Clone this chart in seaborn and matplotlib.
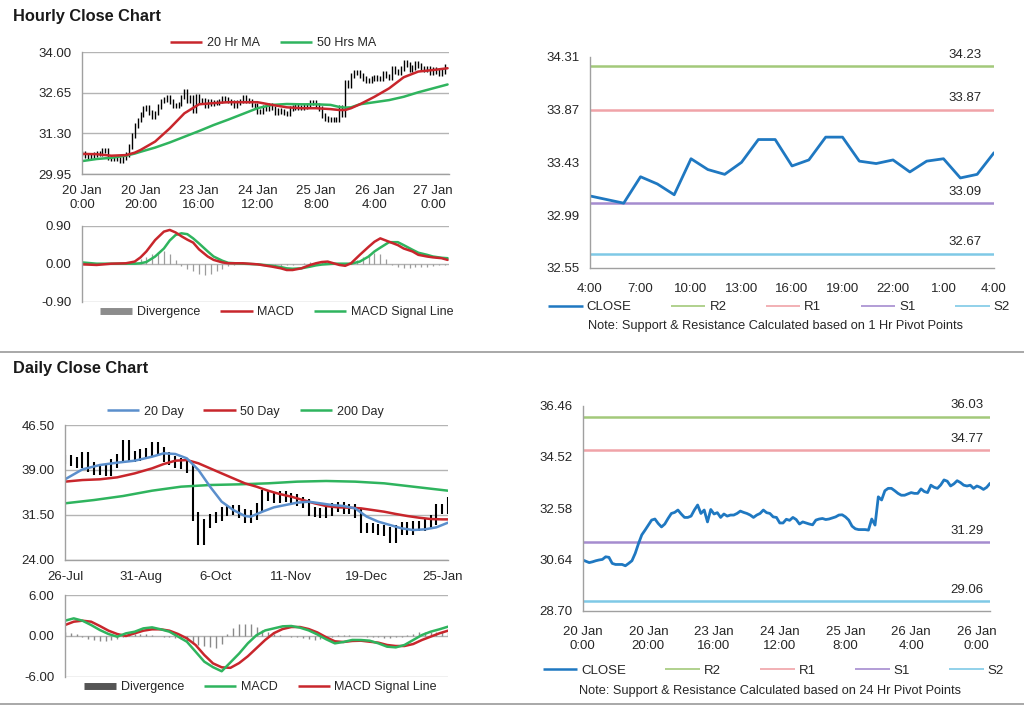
import numpy as np
import matplotlib.pyplot as plt
from matplotlib.lines import Line2D
import seaborn as sns

# ---------------- hourly data (one value per hour) ----------------
hourly_close = [
    30.62, 30.57, 30.52, 30.55, 30.59, 30.62, 30.64, 30.74, 30.72, 30.49,
    30.45, 30.45, 30.45, 30.40, 30.49, 30.59, 30.87, 31.24, 31.57, 31.75,
    31.94, 32.13, 32.17, 32.00, 31.87, 31.98, 32.19, 32.38, 32.42, 32.51,
    32.36, 32.23, 32.23, 32.28, 32.51, 32.70, 32.38, 32.51, 32.06, 32.53,
    32.36, 32.41, 32.23, 32.36, 32.28, 32.32, 32.32, 32.38, 32.47, 32.42,
    32.38, 32.32, 32.23, 32.32, 32.38, 32.51, 32.41, 32.38, 32.25, 32.23,
    32.02, 32.02, 32.16, 32.12, 32.23, 32.15, 31.98, 32.06, 32.02, 31.98,
    31.95, 32.13, 32.17, 32.19, 32.15, 32.17, 32.21, 32.25, 32.32, 32.33,
    32.25, 32.13, 31.90, 31.80, 31.77, 31.77, 31.77, 31.75, 32.17, 31.94,
    33.01, 32.89, 33.24, 33.33, 33.33, 33.24, 33.14, 33.07, 33.07, 33.12,
    33.17, 33.14, 33.14, 33.31, 33.21, 33.17, 33.45, 33.37, 33.33, 33.46,
    33.65, 33.60, 33.42, 33.50, 33.62, 33.55, 33.45, 33.42, 33.45, 33.33,
    33.42, 33.37, 33.29, 33.37, 33.52]
hourly_ticks = ['20 Jan\n0:00', '20 Jan\n20:00', '23 Jan\n16:00', '24 Jan\n12:00',
                '25 Jan\n8:00', '26 Jan\n4:00', '27 Jan\n0:00']
hourly_ticks_pivot = ['20 Jan\n0:00', '20 Jan\n20:00', '23 Jan\n16:00', '24 Jan\n12:00',
                      '25 Jan\n8:00', '26 Jan\n4:00', '26 Jan\n0:00']

ma_hour_x = [0, 5, 10, 15, 18, 20, 25, 30, 35, 40, 45, 50, 55, 60, 65, 70, 75, 80,
             85, 88, 90, 92, 95, 100, 105, 110, 115, 120, 125]
ma20_hr = [30.62, 30.61, 30.56, 30.58, 30.66, 30.75, 31.03, 31.47, 31.97, 32.27,
           32.31, 32.34, 32.34, 32.34, 32.25, 32.17, 32.14, 32.14, 32.11, 32.08,
           32.08, 32.14, 32.27, 32.52, 32.80, 33.17, 33.36, 33.41, 33.47]
ma50_hr = [30.38, 30.45, 30.49, 30.56, 30.63, 30.69, 30.83, 31.00, 31.19, 31.38,
           31.58, 31.76, 31.95, 32.14, 32.25, 32.28, 32.27, 32.27, 32.25, 32.18,
           32.16, 32.17, 32.27, 32.34, 32.41, 32.52, 32.67, 32.80, 32.93]

macd_hour_x = [0, 5, 10, 15, 18, 20, 22, 25, 28, 30, 32, 34, 36, 38, 40, 43, 45, 48,
               50, 55, 60, 65, 68, 70, 72, 75, 78, 80, 82, 84, 86, 88, 90, 92, 95,
               98, 100, 102, 105, 108, 110, 113, 115, 118, 120, 123, 125]
macd_hr = [-0.015, -0.03, 0.0, 0.01, 0.05, 0.15, 0.29, 0.56, 0.76, 0.80, 0.74, 0.65,
           0.57, 0.50, 0.34, 0.17, 0.09, 0.03, 0.01, 0.01, -0.015, -0.07, -0.11,
           -0.15, -0.15, -0.11, -0.03, 0.01, 0.04, 0.05, 0.01, -0.03, -0.05, 0.01,
           0.21, 0.40, 0.52, 0.60, 0.52, 0.44, 0.36, 0.29, 0.21, 0.17, 0.15, 0.13, 0.09]
signal_hr = [0.03, 0.0, 0.0, 0.0, 0.0, 0.01, 0.04, 0.17, 0.36, 0.55, 0.68, 0.72,
             0.70, 0.60, 0.48, 0.29, 0.17, 0.07, 0.02, 0.0, -0.015, -0.05, -0.08,
             -0.11, -0.12, -0.11, -0.07, -0.04, -0.02, -0.01, 0.0, 0.0, 0.0, 0.0,
             0.05, 0.17, 0.29, 0.38, 0.51, 0.51, 0.44, 0.33, 0.26, 0.21, 0.17, 0.14, 0.13]
# divergence, every second hour
div_hr = [0.02, 0.01, 0, 0, 0, 0, 0.01, 0, 0.02, 0.05,
          0.10, 0.16, 0.22, 0.27, 0.29, 0.22, 0.08, -0.06, -0.12, -0.18,
          -0.24, -0.27, -0.24, -0.18, -0.12, -0.06, -0.02, 0, 0.01, 0,
          0, -0.02, -0.04, -0.05, -0.05, -0.04, -0.02, 0, 0.02, 0.04,
          0.05, 0.05, 0.04, 0.01, -0.02, -0.03, 0.01, 0.08, 0.16, 0.22,
          0.26, 0.22, 0.10, -0.02, -0.08, -0.10, -0.10, -0.09, -0.08, -0.07,
          -0.05, -0.04, -0.03]

# 1 hr pivot chart
pivot1_close = [33.15, 33.12, 33.09, 33.31, 33.25, 33.16, 33.46, 33.37, 33.33, 33.43,
                33.62, 33.62, 33.40, 33.45, 33.64, 33.64, 33.44, 33.42, 33.45, 33.35,
                33.44, 33.46, 33.30, 33.33, 33.51]
pivot1_ticks = ['4:00', '7:00', '10:00', '13:00', '16:00', '19:00', '22:00', '1:00', '4:00']
pivot1_levels = {'R2': 34.23, 'R1': 33.87, 'S1': 33.09, 'S2': 32.67}
pivot1_yticks = [32.55, 32.99, 33.43, 33.87, 34.31]

# 24 hr pivot chart
pivot24_levels = {'R2': 36.03, 'R1': 34.77, 'S1': 31.29, 'S2': 29.06}
pivot24_yticks = [28.70, 30.64, 32.58, 34.52, 36.46]

# ---------------- daily data (every second trading day) ----------------
daily_close = [40.77, 40.38, 40.10, 41.20, 39.50, 38.98, 39.26, 38.70, 40.10, 40.93,
               43.16, 41.20, 41.30, 41.77, 41.88, 42.88, 42.05, 41.20, 40.54, 40.20,
               39.98, 39.26, 31.19, 27.20, 30.07, 30.91, 31.19, 32.02, 32.30, 32.41,
               31.74, 30.91, 31.47, 32.75, 34.81, 34.53, 34.25, 34.64, 34.42, 34.25,
               33.70, 33.42, 32.02, 31.86, 31.74, 32.02, 32.75, 32.86, 32.41, 32.58,
               31.74, 29.24, 29.41, 29.24, 28.96, 28.68, 27.57, 28.96, 29.52, 28.96,
               29.63, 29.52, 30.07, 30.63, 32.58, 32.41, 33.70]
daily_ticks = ['26-Jul', '31-Aug', '6-Oct', '11-Nov', '19-Dec', '25-Jan']

d20_x = [0, 6, 12, 18, 24, 30, 34, 38, 42, 46, 50, 54, 58, 62, 64, 68, 72, 76, 80, 84,
         88, 92, 96, 100, 104, 108, 112, 116, 120, 124, 128, 132]
ma20_day = [37.43, 39.09, 39.82, 40.21, 40.54, 41.21, 41.77, 41.66, 40.93, 38.98,
            36.20, 33.69, 32.30, 31.30, 31.19, 32.02, 32.75, 33.14, 33.53, 33.69,
            33.42, 33.14, 32.97, 32.58, 31.19, 30.35, 29.80, 29.24, 28.96, 29.07,
            29.41, 30.19]
d50_x = [0, 6, 12, 18, 24, 30, 34, 38, 42, 46, 50, 54, 58, 62, 66, 70, 74, 78, 82, 86,
         90, 94, 98, 102, 106, 110, 114, 118, 122, 126, 130, 132]
ma50_day = [37.04, 37.31, 37.43, 37.76, 38.42, 39.26, 39.98, 40.54, 40.65, 40.10,
            39.26, 38.42, 37.59, 36.76, 36.20, 35.53, 34.97, 34.53, 33.97, 33.42,
            32.97, 32.75, 32.69, 32.58, 32.30, 32.02, 31.64, 31.30, 31.02, 30.80,
            30.74, 30.74]
d200_x = [0, 10, 20, 30, 40, 50, 60, 70, 80, 90, 100, 110, 120, 132]
ma200_day = [33.42, 33.97, 34.64, 35.53, 36.20, 36.48, 36.59, 36.76, 37.04, 37.15,
             37.04, 36.76, 36.20, 35.53]

macd_day_x = list(range(0, 133, 3))
macd_day = [2.23, 2.57, 2.23, 1.59, 0.86, 0.27, -0.12, 0.37, 0.61, 1.10,
            1.25, 0.96, 0.61, -0.12, -0.86, -2.32, -3.79, -4.60, -5.20, -3.90,
            -2.60, -1.10, 0.10, 0.80, 1.10, 1.40, 1.45, 1.20, 0.80, 0.20,
            -0.50, -1.10, -0.90, -0.60, -0.61, -0.71, -1.10, -1.59, -1.69, -1.34,
            -0.61, 0.12, 0.61, 0.96, 1.35]
signal_day = [1.59, 2.08, 2.23, 2.08, 1.45, 0.76, 0.27, -0.02, 0.37, 0.76,
              0.96, 0.96, 0.76, 0.27, -0.37, -1.34, -2.81, -4.04, -4.62, -4.70,
              -4.00, -3.00, -1.80, -0.60, 0.40, 1.00, 1.30, 1.30, 1.00, 0.50,
              -0.20, -0.80, -0.90, -0.75, -0.71, -0.86, -1.00, -1.34, -1.49, -1.49,
              -1.20, -0.61, -0.12, 0.37, 0.76]
div_day = [0.6, 0.45, 0.2, -0.1, -0.4, -0.6, -0.8, -0.8, -0.6, -0.4,
           -0.1, 0.2, 0.2, 0.3, 0.25, 0.15, 0.05, -0.1, -0.2, -0.35,
           -0.5, -0.8, -1.0, -1.3, -1.5, -1.7, -1.8, -1.2, 0.2, 1.2,
           1.7, 1.8, 1.7, 1.3, 0.8, 0.6, 0.3, 0.1, 0.05, -0.1,
           -0.2, -0.3, -0.5, -0.6, -0.5, -0.3, -0.1, 0.1, 0.15, 0.1,
           0.0, 0.0, -0.1, -0.1, -0.2, -0.3, -0.3, -0.2, -0.1, 0.1,
           0.3, 0.5, 0.6, 0.6, 0.5, 0.5, 0.5]

# colours
RED = '#c8262c'
GREEN = '#2fb45e'
BLUE = '#5b8fcc'
CLOSE_BLUE = '#1f78c1'
LEVEL_COL = {'R2': '#a3c97a', 'R1': '#f0a3a8', 'S1': '#a58ccf', 'S2': '#7fc9e6'}
GRID = '#b4b4b4'
SPINE = '#a0a0a0'
TXT = '#262626'

sns.set_theme(style='white')
plt.rcParams['font.family'] = ['Liberation Sans', 'DejaVu Sans']

fig = plt.figure(figsize=(10.24, 7.06), dpi=100)


def frame(ax, grid=True, size=9.5):
    ax.spines['top'].set_visible(False)
    ax.spines['right'].set_visible(False)
    for s in ['left', 'bottom']:
        ax.spines[s].set_color(SPINE)
        ax.spines[s].set_linewidth(1)
    ax.tick_params(axis='both', which='both', direction='out', length=4, width=1,
                   color=SPINE, labelcolor=TXT, labelsize=size)
    ax.tick_params(axis='x', pad=4)
    if grid:
        ax.yaxis.grid(True, color=GRID, linewidth=1)
        ax.set_axisbelow(True)


def price_bars(ax, x, close, pad, lw):
    close = np.asarray(close)
    prev = np.r_[close[0], close[:-1]]
    ax.vlines(x, np.minimum(prev, close) - pad, np.maximum(prev, close) + pad,
              color='black', linewidth=lw)


def line(ax, x, y, color, lw=1.8):
    sns.lineplot(x=x, y=y, ax=ax, color=color, linewidth=lw, estimator=None,
                 sort=False, legend=False)


def handle(c, w):
    return Line2D([], [], color=c, lw=w, solid_capstyle='butt')


def leg(ax, items, anchor, fs=9, spacing=1.6):
    ax.legend([handle(c, w) for _, c, w in items], [t for t, _, _ in items],
              loc='center', bbox_to_anchor=anchor, ncol=len(items), frameon=False,
              fontsize=fs, handlelength=2.6, handletextpad=0.35, columnspacing=spacing,
              labelcolor=TXT)


# ---------------- hourly price ----------------
ax1 = fig.add_axes([0.0801, 0.7535, 0.3584, 0.1724])
price_bars(ax1, np.arange(len(hourly_close)), hourly_close, 0.08, 1.0)
line(ax1, ma_hour_x, ma50_hr, GREEN)
line(ax1, ma_hour_x, ma20_hr, RED)
ax1.set_xlim(0, 125.5)
ax1.set_ylim(29.95, 34.00)
ax1.set_yticks([29.95, 31.30, 32.65, 34.00])
ax1.set_yticklabels(['%.2f' % v for v in [29.95, 31.30, 32.65, 34.00]])
ax1.set_xticks(range(0, 121, 20))
ax1.set_xticklabels(hourly_ticks)
ax1.set_xlabel('')
ax1.set_ylabel('')
frame(ax1)
leg(ax1, [('20 Hr MA', RED, 1.8), ('50 Hrs MA', GREEN, 1.8)], (0.52, 1.075))

# ---------------- hourly MACD ----------------
ax2 = fig.add_axes([0.0801, 0.5727, 0.3584, 0.1076])
ax2.vlines(np.arange(0, 125, 2), 0, div_hr, color='#9c9c9c', linewidth=0.9)
line(ax2, macd_hour_x, signal_hr, GREEN)
line(ax2, macd_hour_x, macd_hr, RED)
ax2.set_xlim(0, 125.5)
ax2.set_ylim(-0.9, 0.9)
ax2.set_yticks([-0.9, 0, 0.9])
ax2.set_yticklabels(['-0.90', '0.00', '0.90'])
ax2.set_xticks([])
ax2.set_xlabel('')
ax2.set_ylabel('')
frame(ax2)
ax2.spines['bottom'].set_visible(False)
leg(ax2, [('Divergence', '#8c8c8c', 5), ('MACD', RED, 1.8),
          ('MACD Signal Line', GREEN, 1.8)], (0.53, -0.14))

# ---------------- pivot charts ----------------
def pivot(rect, x, close, levels, yticks, xticks, xlabels, label_x, note, legend_y, note_y):
    ax = fig.add_axes(rect)
    for name, val in levels.items():
        ax.axhline(val, color=LEVEL_COL[name], linewidth=1.8)
        ax.annotate('%.2f' % val, (label_x, val), xycoords=('axes fraction', 'data'),
                    xytext=(0, 4), textcoords='offset points', ha='center', va='bottom',
                    fontsize=9.5, color=TXT)
    line(ax, x, close, CLOSE_BLUE, lw=2.0)
    ax.set_xlim(x[0], x[-1])
    ax.set_ylim(yticks[0], yticks[-1])
    ax.set_yticks(yticks)
    ax.set_yticklabels(['%.2f' % v for v in yticks])
    ax.set_xticks(xticks)
    ax.set_xticklabels(xlabels)
    ax.set_xlabel('')
    ax.set_ylabel('')
    frame(ax, grid=False, size=9.5)
    ax.tick_params(axis='x', pad=7)
    items = [('CLOSE', CLOSE_BLUE, 1.8)] + [(n, LEVEL_COL[n], 1.2) for n in levels]
    ax.legend([handle(c, w) for _, c, w in items], [t for t, _, _ in items], loc='center',
              bbox_to_anchor=(0.468, legend_y), ncol=5, frameon=False, fontsize=9.5,
              handlelength=2.6, handletextpad=0.3, columnspacing=3.0, labelcolor=TXT)
    ax.text(0.46, note_y, note, transform=ax.transAxes, ha='center', va='center',
            fontsize=9.2, color=TXT)
    return ax


pivot([0.5762, 0.6204, 0.3945, 0.2993], list(range(len(pivot1_close))), pivot1_close,
      pivot1_levels, pivot1_yticks, list(range(0, 25, 3)), pivot1_ticks, 0.928,
      'Note: Support & Resistance Calculated based on 1 Hr Pivot Points', -0.185, -0.275)

pivot([0.5690, 0.1350, 0.3978, 0.2904], list(range(len(hourly_close))), hourly_close,
      pivot24_levels, pivot24_yticks, list(range(0, 121, 20)), hourly_ticks_pivot, 0.944,
      'Note: Support & Resistance Calculated based on 24 Hr Pivot Points', -0.294, -0.392)

# ---------------- daily price ----------------
ax3 = fig.add_axes([0.0635, 0.2072, 0.3740, 0.1908])
price_bars(ax3, np.arange(0, 133, 2), daily_close, 0.8, 1.5)
line(ax3, d200_x, ma200_day, GREEN)
line(ax3, d50_x, ma50_day, RED)
line(ax3, d20_x, ma20_day, BLUE)
ax3.set_xlim(0, 132)
ax3.set_ylim(24, 46.5)
ax3.set_yticks([24, 31.5, 39, 46.5])
ax3.set_yticklabels(['24.00', '31.50', '39.00', '46.50'])
ax3.set_xticks(range(0, 131, 26))
ax3.set_xticklabels(daily_ticks)
ax3.set_xlabel('')
ax3.set_ylabel('')
frame(ax3)
leg(ax3, [('20 Day', BLUE, 1.8), ('50 Day', RED, 1.8), ('200 Day', GREEN, 1.8)],
    (0.47, 1.1))

# ---------------- daily MACD ----------------
ax4 = fig.add_axes([0.0635, 0.0415, 0.3740, 0.1157])
ax4.vlines(np.arange(0, 133, 2), 0, div_day, color='#8a8a8a', linewidth=1.0)
line(ax4, macd_day_x, signal_day, RED)
line(ax4, macd_day_x, macd_day, GREEN)
ax4.set_xlim(0, 132)
ax4.set_ylim(-6, 6)
ax4.set_yticks([-6, 0, 6])
ax4.set_yticklabels(['-6.00', '0.00', '6.00'])
ax4.set_xticks([])
ax4.set_xlabel('')
ax4.set_ylabel('')
frame(ax4)
ax4.spines['bottom'].set_visible(False)
leg(ax4, [('Divergence', '#555555', 5), ('MACD', GREEN, 1.8),
          ('MACD Signal Line', RED, 1.8)], (0.51, -0.13))

# ---------------- titles and separators ----------------
fig.text(13 / 1024, 1 - 16 / 706, 'Hourly Close Chart', fontsize=11.8, fontweight='bold',
         color='#1a1a1a', va='center', ha='left')
fig.text(13 / 1024, 1 - 369 / 706, 'Daily Close Chart', fontsize=11.8, fontweight='bold',
         color='#1a1a1a', va='center', ha='left')
for yy in [1 - 352 / 706, 1 - 704 / 706]:
    fig.add_artist(Line2D([0, 1], [yy, yy], color='#9a9a9a', linewidth=1.2,
                          transform=fig.transFigure))

fig.savefig('out.png', dpi=100)
